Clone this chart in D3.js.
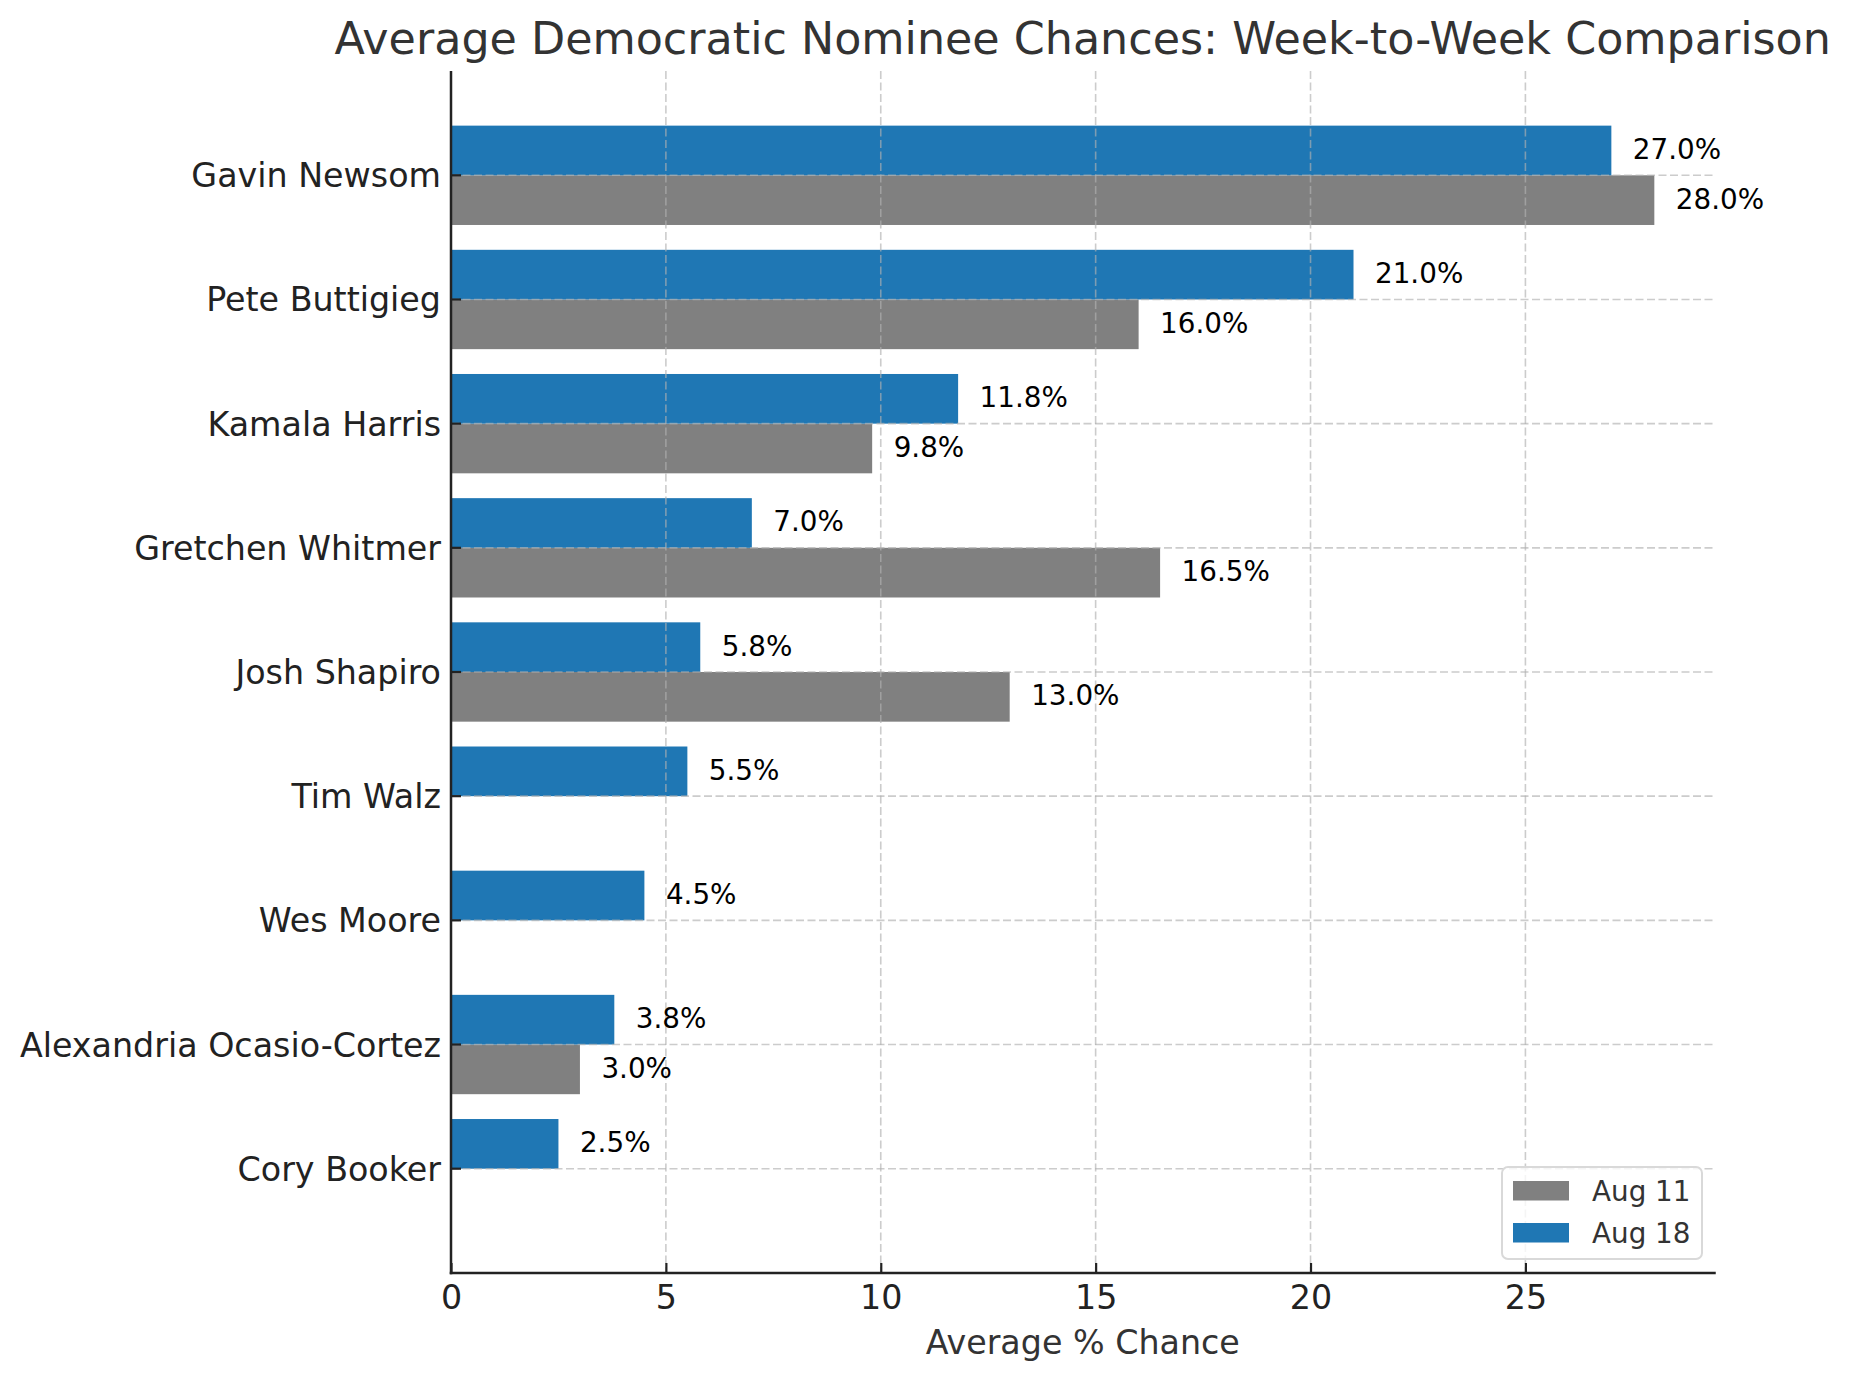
<!DOCTYPE html>
<html>
<head>
<meta charset="utf-8">
<script src="https://cdn.jsdelivr.net/npm/d3@7/dist/d3.min.js"></script>
<style>
  html, body { margin: 0; padding: 0; background: #fff; }
  svg { display: block; font-family: "DejaVu Sans", sans-serif; }
</style>
</head>
<body>
<svg id="chart" width="1852" height="1380"></svg>
<script>
const candidates = ["Gavin Newsom", "Pete Buttigieg", "Kamala Harris", "Gretchen Whitmer",
  "Josh Shapiro", "Tim Walz", "Wes Moore", "Alexandria Ocasio-Cortez", "Cory Booker"];
const aug11 = [28.0, 16.0, 9.8, 16.5, 13.0, null, null, 3.0, null];
const aug18 = [27.0, 21.0, 11.8, 7.0, 5.8, 5.5, 4.5, 3.8, 2.5];
const xTicks = [0, 5, 10, 15, 20, 25];
const seriesNames = ["Aug 11", "Aug 18"];
const seriesColors = ["#808080", "#1f77b4"];
const titleText = "Average Democratic Nominee Chances: Week-to-Week Comparison";
const xLabelText = "Average % Chance";

const svg = d3.select("#chart");
const L = 451, R = 1714.5, T = 71, B = 1273;

const x = d3.scaleLinear().domain([0, 29.4]).range([L, R]);
const y = d3.scaleLinear().domain([-0.84, 8.84]).range([T, B]);
const barH = y(0.4) - y(0);

// bars
const g = svg.append("g");
candidates.forEach((c, i) => {
  if (aug11[i] != null) {
    g.append("rect").attr("x", x(0)).attr("y", y(i)).attr("width", x(aug11[i]) - x(0))
      .attr("height", barH).attr("fill", seriesColors[0]);
  }
  if (aug18[i] != null) {
    g.append("rect").attr("x", x(0)).attr("y", y(i - 0.4)).attr("width", x(aug18[i]) - x(0))
      .attr("height", barH).attr("fill", seriesColors[1]);
  }
});

// grid (on top of bars)
const grid = svg.append("g").attr("stroke", "#b0b0b0").attr("stroke-opacity", 0.65)
  .attr("stroke-width", 1.6).attr("stroke-dasharray", "8,3.5");
xTicks.forEach(t => {
  grid.append("line").attr("x1", x(t)).attr("x2", x(t)).attr("y1", T).attr("y2", B);
});
candidates.forEach((c, i) => {
  grid.append("line").attr("x1", L).attr("x2", R).attr("y1", y(i)).attr("y2", y(i));
});

// value labels
const lab = svg.append("g").attr("font-size", 27.8).attr("fill", "#000");
candidates.forEach((c, i) => {
  if (aug18[i] != null) {
    lab.append("text").attr("x", x(aug18[i] + 0.5)).attr("y", y(i - 0.2) + 8.5)
      .text(aug18[i].toFixed(1) + "%");
  }
  if (aug11[i] != null) {
    lab.append("text").attr("x", x(aug11[i] + 0.5)).attr("y", y(i + 0.2) + 8.5)
      .text(aug11[i].toFixed(1) + "%");
  }
});

// axes
const xAxis = d3.axisBottom(x).tickValues(xTicks).tickSizeInner(-10).tickSizeOuter(0)
  .tickPadding(22).tickFormat(d3.format("d"));
const xg = svg.append("g").attr("transform", `translate(0,${B})`).call(xAxis);
xg.select(".domain").remove();
xg.selectAll(".tick line").attr("stroke", "#222").attr("stroke-width", 2.2);
xg.selectAll(".tick text").attr("font-size", 33.3).attr("fill", "#222")
  .attr("font-family", "DejaVu Sans").attr("dy", "0.71em").attr("y", 12);

const yg = svg.append("g").attr("transform", `translate(${L},0)`);
candidates.forEach((c, i) => {
  yg.append("line").attr("x1", 0).attr("x2", 10).attr("y1", y(i)).attr("y2", y(i))
    .attr("stroke", "#222").attr("stroke-width", 2.2);
  yg.append("text").attr("x", -10).attr("y", y(i) + 12).attr("text-anchor", "end")
    .attr("font-size", 33.3).attr("fill", "#222").text(c);
});

// spines
svg.append("line").attr("x1", L).attr("x2", L).attr("y1", T).attr("y2", B + 1.25)
  .attr("stroke", "#222").attr("stroke-width", 2.5);
svg.append("line").attr("x1", L - 1.25).attr("x2", R + 1.25).attr("y1", B).attr("y2", B)
  .attr("stroke", "#222").attr("stroke-width", 2.5);

// title & label
svg.append("text").attr("x", (L + R) / 2).attr("y", 54).attr("text-anchor", "middle")
  .attr("font-size", 44.4).attr("fill", "#333").text(titleText);
svg.append("text").attr("x", (L + R) / 2).attr("y", 1354).attr("text-anchor", "middle")
  .attr("font-size", 33.3).attr("fill", "#333").text(xLabelText);

// legend
const lg = svg.append("g");
lg.append("rect").attr("x", 1502).attr("y", 1167).attr("width", 200).attr("height", 92)
  .attr("rx", 6).attr("fill", "#fff").attr("fill-opacity", 0.8)
  .attr("stroke", "#d9d9d9").attr("stroke-width", 2);
seriesNames.forEach((s, k) => {
  const yy = 1181 + k * 42;
  lg.append("rect").attr("x", 1513).attr("y", yy).attr("width", 56).attr("height", 19.5)
    .attr("fill", seriesColors[k]);
  lg.append("text").attr("x", 1592).attr("y", yy + 19.5).attr("font-size", 27.8)
    .attr("fill", "#333").text(s);
});
</script>
</body>
</html>
